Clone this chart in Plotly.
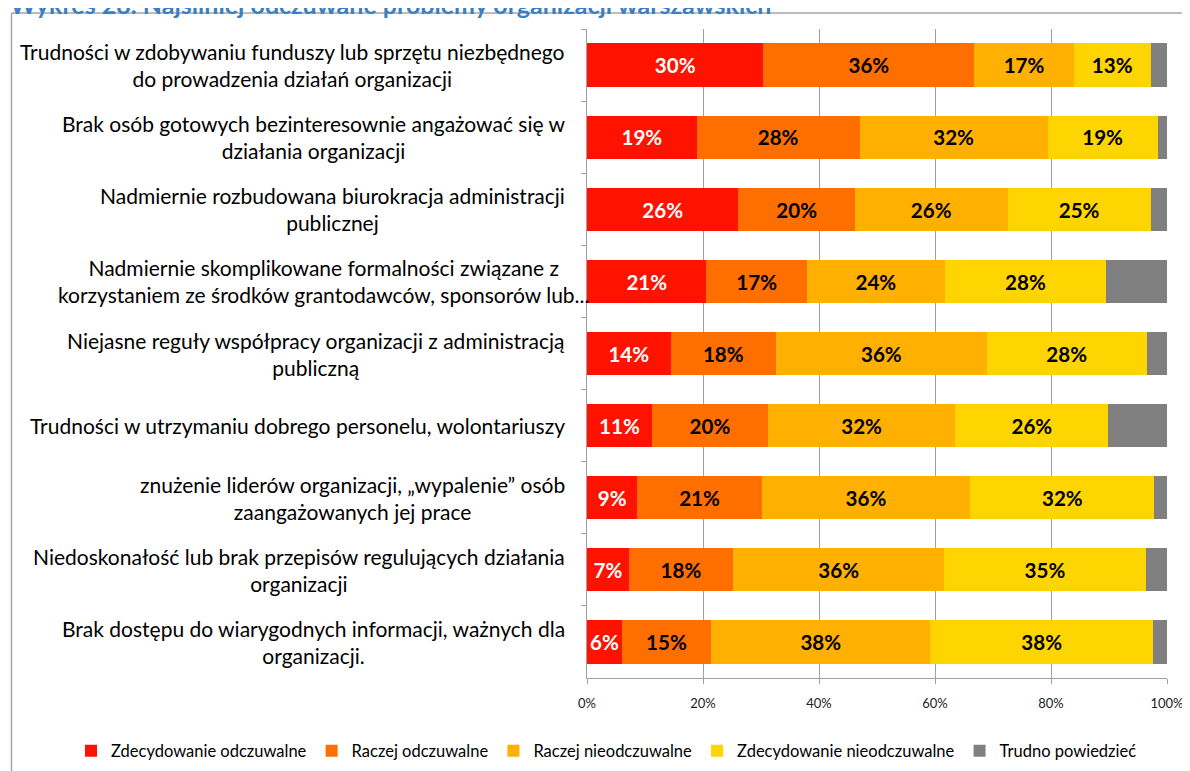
import plotly.graph_objects as go

categories = [
    "Trudności w zdobywaniu funduszy lub sprzętu niezbędnego<br>do prowadzenia działań organizacji",
    "Brak osób gotowych bezinteresownie angażować się w<br>działania organizacji",
    "Nadmiernie rozbudowana biurokracja administracji<br>publicznej",
    "Nadmiernie skomplikowane formalności związane z<br>korzystaniem ze środków grantodawców, sponsorów lub...",
    "Niejasne reguły współpracy organizacji z administracją<br>publiczną",
    "Trudności w utrzymaniu dobrego personelu, wolontariuszy",
    "znużenie liderów organizacji, „wypalenie” osób<br>zaangażowanych jej prace",
    "Niedoskonałość lub brak przepisów regulujących działania<br>organizacji",
    "Brak dostępu do wiarygodnych informacji, ważnych dla<br>organizacji.",
]

series_names = ["Zdecydowanie odczuwalne", "Raczej odczuwalne", "Raczej nieodczuwalne",
                "Zdecydowanie nieodczuwalne", "Trudno powiedzieć"]

zdecydowanie_odczuwalne = [30.4, 18.9, 26.1, 20.6, 14.4, 11.2, 8.7, 7.2, 6.0]
raczej_odczuwalne = [36.4, 28.1, 20.1, 17.3, 18.2, 20.0, 21.4, 18.0, 15.4]
raczej_nieodczuwalne = [17.1, 32.4, 26.3, 23.8, 36.3, 32.3, 36.0, 36.4, 37.8]
zdecydowanie_nieodczuwalne = [13.3, 19.0, 24.7, 27.8, 27.6, 26.4, 31.7, 34.7, 38.4]
trudno_powiedziec = [2.8, 1.6, 2.8, 10.5, 3.5, 10.1, 2.2, 3.7, 2.4]

tick_vals = [0, 20, 40, 60, 80, 100]
tick_text = ["0%", "20%", "40%", "60%", "80%", "100%"]

title_text = "Wykres 28. Najsilniej odczuwane problemy organizacji warszawskich"

colors = ["#FF1200", "#FF6F00", "#FFB000", "#FFD500", "#808080"]
text_colors = ["white", "black", "black", "black", "black"]
text_sizes = [21, 25, 21, 21, 21]
show_text = [True, True, True, True, False]

FONT = "Lato"

all_series = [zdecydowanie_odczuwalne, raczej_odczuwalne, raczej_nieodczuwalne,
              zdecydowanie_nieodczuwalne, trudno_powiedziec]

fig = go.Figure()
for name, vals, col, tc, ts, st in zip(series_names, all_series, colors, text_colors, text_sizes, show_text):
    fig.add_trace(go.Bar(
        name=name,
        y=categories,
        x=vals,
        orientation="h",
        marker=dict(color=col, line=dict(width=0)),
        text=[f"{v:.0f}%" for v in vals] if st else None,
        textposition="inside" if st else "none",
        insidetextanchor="middle",
        textangle=0,
        textfont=dict(family=FONT, size=ts, color=tc, weight="bold"),
        hoverinfo="skip",
    ))

# category labels (centered multi-line, right-aligned block)
for cat in categories:
    shift = 4 if cat.endswith("...") else -20
    fig.add_annotation(
        x=0, xref="paper", y=cat, yref="y",
        text=cat, showarrow=False, xanchor="right", yanchor="middle",
        align="center", xshift=shift,
        font=dict(family=FONT, size=21, color="black"),
    )

# page offset (browser body margin) and figure size
OFF = 8
W, H = 1190 - OFF, 771 - OFF
# plot area in screen pixels: x 587..1167, y 29..678
L, R, T, B = 587 - OFF, W - (1167 - OFF), 29 - OFF, H - (678 - OFF)
pw, ph = W - L - R, H - T - B

def px_x(sx):
    return (sx - OFF - L) / pw

def px_y(sy):
    return (H - B - (sy - OFF)) / ph

# chart title (partially cut at top edge, as in the reference)
fig.add_annotation(
    x=px_x(OFF), xref="paper", y=px_y(OFF - 4), yref="paper",
    text="<b>" + title_text + "</b>", showarrow=False,
    xanchor="left", yanchor="middle",
    font=dict(family=FONT, size=25, color="#3C7EC2"),
)

border = "#A6A6A6"
fig.add_shape(type="line", xref="paper", yref="paper",
              x0=px_x(11.5), x1=px_x(1195), y0=px_y(13), y1=px_y(13),
              line=dict(color=border, width=1.5))
fig.add_shape(type="line", xref="paper", yref="paper",
              x0=px_x(11.5), x1=px_x(11.5), y0=px_y(13), y1=px_y(775),
              line=dict(color=border, width=1.5))

fig.update_layout(
    width=W, height=H,
    barmode="stack",
    bargap=0.4,
    margin=dict(l=L, r=R, t=T, b=B, autoexpand=False),
    paper_bgcolor="white",
    plot_bgcolor="white",
    font=dict(family=FONT, color="black"),
    xaxis=dict(range=[0, 100], tickvals=tick_vals, ticktext=tick_text,
               showgrid=True, gridcolor="#A0A0A0", gridwidth=1,
               showline=True, linecolor="#A0A0A0", linewidth=1,
               ticks="outside", ticklen=5, tickcolor="#A0A0A0",
               ticklabelstandoff=8,
               tickfont=dict(family=FONT, size=13, color="#222222"),
               zeroline=False, fixedrange=True),
    yaxis=dict(autorange="reversed", showticklabels=False,
               showline=True, linecolor="#A0A0A0", linewidth=1,
               ticks="outside", ticklen=5, tickcolor="#A0A0A0",
               tickson="boundaries", showgrid=False, fixedrange=True),
    legend=dict(orientation="h", x=px_x(71), xanchor="left",
                y=px_y(751), yanchor="middle",
                font=dict(family=FONT, size=16.5, color="black"),
                traceorder="normal", itemclick=False, itemdoubleclick=False),
    uniformtext=dict(mode="show", minsize=14),
    showlegend=True,
)

fig.write_html("out.html")
